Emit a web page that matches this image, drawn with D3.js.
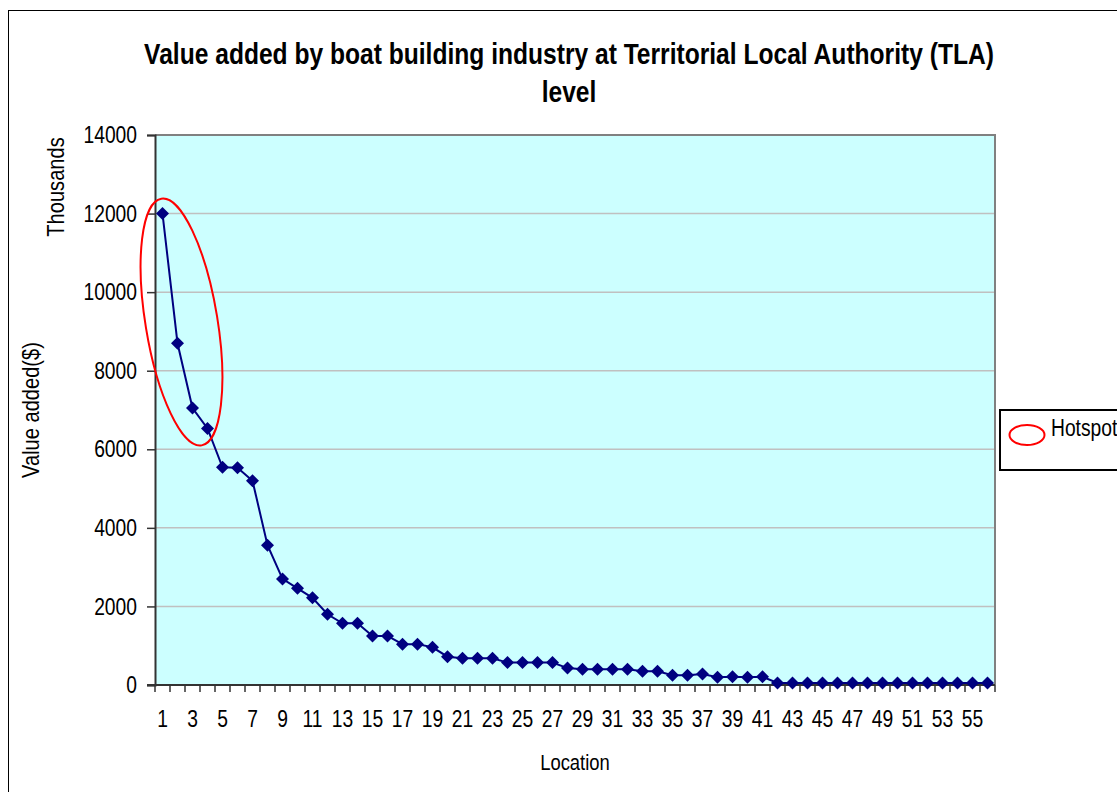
<!DOCTYPE html>
<html>
<head>
<meta charset="utf-8">
<script src="https://cdn.jsdelivr.net/npm/d3@7/dist/d3.min.js"></script>
<style>
  html, body { margin: 0; padding: 0; background: #fff; }
  svg { display: block; }
</style>
</head>
<body>
<svg id="chart" width="1117" height="792"></svg>
<script>
// ---- data ----
const locations = d3.range(1, 57);
const valueAdded = [12000, 8700, 7050, 6530, 5540, 5530, 5200, 3560, 2700, 2460,
  2220, 1800, 1570, 1570, 1250, 1250, 1040, 1040, 960, 720,
  680, 680, 680, 570, 570, 570, 570, 430, 400, 400,
  400, 400, 350, 350, 250, 250, 280, 200, 210, 200,
  210, 50, 50, 50, 50, 50, 50, 50, 50, 50,
  50, 50, 50, 50, 50, 50];
const yTicks = [0, 2000, 4000, 6000, 8000, 10000, 12000, 14000];
const xTickLabels = locations.filter(d => d % 2 === 1);
const titleLines = ["Value added by boat building industry at Territorial Local Authority (TLA)", "level"];
const yTitle = "Value added($)";
const yUnit = "Thousands";
const xTitle = "Location";
const legendLabel = "Hotspot";
const hotspot = {from: 1, to: 4};

// ---- font detection (Arial Narrow metric clone) ----
function hasFont(name) {
  const c = document.createElement("canvas").getContext("2d");
  c.font = "40px monospace";
  const w0 = c.measureText("Value added 0123456789").width;
  c.font = `40px "${name}", monospace`;
  const w1 = c.measureText("Value added 0123456789").width;
  return Math.abs(w0 - w1) > 0.5;
}
const narrow = hasFont("Liberation Sans Narrow");
const FONT = narrow ? '"Liberation Sans Narrow", "Arial Narrow", sans-serif' : '"Liberation Sans", Arial, sans-serif';
const SX = narrow ? 1 : 0.82;

const svg = d3.select("#chart");
const M = {left: 155, right: 995, top: 135, bottom: 685};

function addText(parent, x, y, str, opts = {}) {
  const g = parent.append("g").attr("transform", `translate(${x},${y})${opts.rotate ? ` rotate(${opts.rotate})` : ""} scale(${SX},1)`);
  g.append("text")
    .attr("text-anchor", opts.anchor || "middle")
    .attr("dominant-baseline", opts.baseline || "auto")
    .attr("font-family", FONT)
    .attr("font-size", opts.size || 22)
    .attr("font-weight", opts.weight || "normal")
    .attr("fill", "#000")
    .text(str);
  return g;
}

// outer frame
svg.append("rect").attr("x", 8.5).attr("y", 10.5).attr("width", 1300).attr("height", 900)
  .attr("fill", "#fff").attr("stroke", "#000").attr("stroke-width", 1);

// scales
const x = d3.scaleBand().domain(locations).range([M.left, M.right]).padding(0);
const y = d3.scaleLinear().domain([0, 14000]).range([M.bottom, M.top]);
const xc = d => x(d) + x.bandwidth() / 2;

// plot area
svg.append("rect").attr("x", M.left).attr("y", M.top).attr("width", M.right - M.left).attr("height", M.bottom - M.top)
  .attr("fill", "#CCFFFF");

// gridlines
svg.append("g").selectAll("line").data(yTicks.filter(d => d > 0 && d < 14000)).join("line")
  .attr("x1", M.left).attr("x2", M.right).attr("y1", d => y(d)).attr("y2", d => y(d))
  .attr("stroke", "#C0C0C0").attr("stroke-width", 1.5);

// plot border (top/right gray)
svg.append("path").attr("d", `M${M.left},${M.top}H${M.right}V${M.bottom}`)
  .attr("fill", "none").attr("stroke", "#808080").attr("stroke-width", 2);

// y axis
const yAxis = svg.append("g").attr("transform", `translate(${M.left},0)`)
  .call(d3.axisLeft(y).tickValues(yTicks).tickSize(8).tickPadding(11).tickFormat(d3.format("d")));
yAxis.select(".domain").attr("stroke", "#333").attr("stroke-width", 2);
yAxis.selectAll(".tick line").attr("stroke", "#333").attr("stroke-width", 1.5);
yAxis.selectAll(".tick text").remove();
yAxis.selectAll(".tick").each(function(d) {
  addText(d3.select(this), -18, 0, String(d), {anchor: "end", baseline: "central", size: 23.5});
});

// x axis (ticks at category boundaries)
const xAxisG = svg.append("g").attr("transform", `translate(0,${M.bottom})`);
xAxisG.append("line").attr("x1", M.left - 8).attr("x2", M.right).attr("y1", 0).attr("y2", 0)
  .attr("stroke", "#333").attr("stroke-width", 2);
const boundaries = locations.map(d => x(d)).concat([M.right]);
xAxisG.selectAll("line.tk").data(boundaries).join("line").attr("class", "tk")
  .attr("x1", d => d).attr("x2", d => d).attr("y1", 0).attr("y2", 7)
  .attr("stroke", "#333").attr("stroke-width", 1.5);
xTickLabels.forEach(d => addText(xAxisG, xc(d), 42, String(d), {size: 23.5}));

// line + markers
const line = d3.line().x((d, i) => xc(locations[i])).y(d => y(d));
svg.append("path").datum(valueAdded).attr("d", line)
  .attr("fill", "none").attr("stroke", "#000080").attr("stroke-width", 2);
svg.append("g").selectAll("path").data(valueAdded).join("path")
  .attr("transform", (d, i) => `translate(${xc(locations[i])},${y(d)})`)
  .attr("d", "M0,-6.5L6.5,0L0,6.5L-6.5,0Z").attr("fill", "#000080");

// hotspot ellipse around first points
const hx = (xc(hotspot.from) + xc(hotspot.to)) / 2 - 3.5;
const hy = (y(valueAdded[hotspot.from - 1]) + y(valueAdded[hotspot.to - 1])) / 2 + 1;
svg.append("ellipse").attr("cx", 0).attr("cy", 0).attr("rx", 36).attr("ry", 125)
  .attr("transform", `translate(${hx},${hy}) rotate(-9.3)`)
  .attr("fill", "none").attr("stroke", "#FF0000").attr("stroke-width", 2);

// titles
addText(svg, 569, 64, titleLines[0], {size: 30, weight: "bold"});
addText(svg, 569, 102, titleLines[1], {size: 30, weight: "bold"});
addText(svg, 575, 770, xTitle, {size: 22.5});
addText(svg, 39, 410, yTitle, {size: 24.5, rotate: -90});
addText(svg, 64, 187, yUnit, {size: 24.5, rotate: -90});

// legend
const lg = svg.append("g");
lg.append("rect").attr("x", 1000).attr("y", 410).attr("width", 200).attr("height", 60)
  .attr("fill", "#fff").attr("stroke", "#000").attr("stroke-width", 2);
lg.append("ellipse").attr("cx", 1027).attr("cy", 435).attr("rx", 17.5).attr("ry", 10)
  .attr("fill", "none").attr("stroke", "#FF0000").attr("stroke-width", 2);
addText(lg, 1051, 436, legendLabel, {anchor: "start", size: 23.5});
</script>
</body>
</html>
